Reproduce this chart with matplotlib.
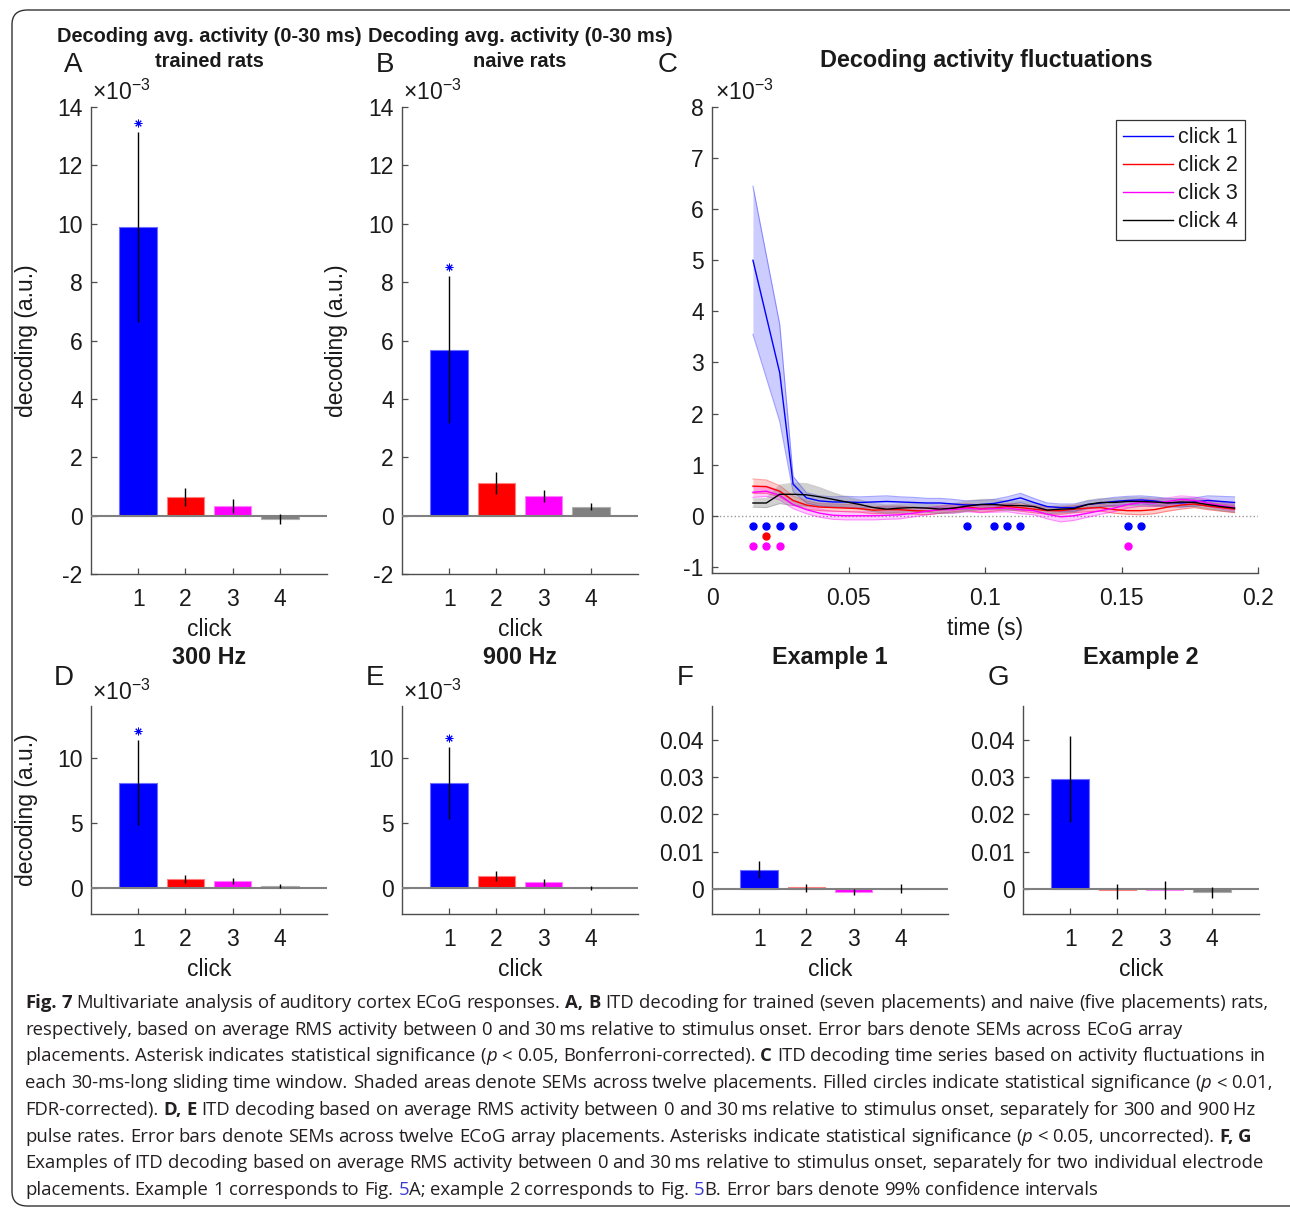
import numpy as np
import matplotlib
matplotlib.use('Agg')
import matplotlib.pyplot as plt
from matplotlib.patches import FancyBboxPatch

plt.rcParams['font.family'] = ['Liberation Sans', 'DejaVu Sans']
plt.rcParams['mathtext.fontset'] = 'custom'
plt.rcParams['mathtext.rm'] = 'Liberation Sans'
plt.rcParams['mathtext.it'] = 'Liberation Sans:italic'
plt.rcParams['axes.unicode_minus'] = False

# ---- bar data (A, B, D, E in units of 1e-3) ----
clicks = [1, 2, 3, 4]
bar_colors = ['#0000ff', '#ff0000', '#ff00ff', '#808080']
edge_colors = ['#6f6fff', '#ff8080', '#ff80ff', '#b0b0b0']

trained_mean = [9.89, 0.63, 0.32, -0.11]
trained_sem = [3.27, 0.30, 0.24, 0.16]
naive_mean = [5.69, 1.12, 0.67, 0.31]
naive_sem = [2.53, 0.38, 0.21, 0.13]
hz300_mean = [8.10, 0.71, 0.53, 0.18]
hz300_sem = [3.27, 0.30, 0.22, 0.16]
hz900_mean = [8.07, 0.94, 0.43, -0.02]
hz900_sem = [2.80, 0.40, 0.27, 0.15]
sig_flags = [True, False, False, False]

# examples with 99% confidence intervals
ex1_mean = [0.0052, 0.0004, -0.0008, 0.0]
ex1_lo = [0.0029, -0.0008, -0.0017, -0.0012]
ex1_hi = [0.0075, 0.0013, 0.0001, 0.0012]
ex2_mean = [0.0295, -0.0004, -0.0002, -0.0009]
ex2_lo = [0.0179, -0.0028, -0.0028, -0.0024]
ex2_hi = [0.0409, 0.0014, 0.0022, 0.0004]

# ---- time series (C), units of 1e-3 ----
time_s = np.linspace(0.015, 0.1914, 37)
blue_mean = [5.00, 3.90, 2.80, 0.62, 0.35, 0.29, 0.27, 0.27, 0.26, 0.27, 0.28, 0.27, 0.26,
             0.25, 0.25, 0.23, 0.21, 0.22, 0.24, 0.29, 0.35, 0.26, 0.18, 0.16, 0.16, 0.22,
             0.25, 0.28, 0.30, 0.31, 0.29, 0.26, 0.25, 0.27, 0.30, 0.28, 0.26]
blue_sem = [1.45, 1.20, 0.95, 0.15, 0.10, 0.10, 0.10, 0.11, 0.11, 0.11, 0.11, 0.10, 0.10,
            0.09, 0.09, 0.09, 0.08, 0.08, 0.08, 0.08, 0.09, 0.08, 0.07, 0.07, 0.07, 0.07,
            0.07, 0.08, 0.08, 0.08, 0.08, 0.08, 0.08, 0.08, 0.09, 0.10, 0.11]
red_mean = [0.58, 0.57, 0.48, 0.30, 0.21, 0.17, 0.16, 0.15, 0.14, 0.11, 0.12, 0.12, 0.10,
            0.09, 0.12, 0.15, 0.17, 0.14, 0.15, 0.18, 0.16, 0.13, 0.10, 0.10, 0.13, 0.15,
            0.16, 0.12, 0.10, 0.10, 0.12, 0.17, 0.21, 0.23, 0.19, 0.16, 0.13]
red_sem = [0.14, 0.13, 0.11, 0.09, 0.08, 0.07, 0.07, 0.07, 0.07, 0.07, 0.07, 0.07, 0.07,
           0.07, 0.07, 0.07, 0.07, 0.07, 0.06, 0.06, 0.07, 0.07, 0.07, 0.07, 0.07, 0.07,
           0.07, 0.07, 0.07, 0.08, 0.08, 0.08, 0.08, 0.07, 0.07, 0.07, 0.07]
mag_mean = [0.46, 0.48, 0.40, 0.22, 0.12, 0.05, 0.01, 0.00, 0.00, 0.00, 0.01, 0.02, 0.05,
            0.09, 0.12, 0.12, 0.15, 0.13, 0.14, 0.15, 0.12, 0.10, 0.03, -0.02, 0.00, 0.05,
            0.10, 0.15, 0.22, 0.26, 0.25, 0.28, 0.32, 0.30, 0.25, 0.20, 0.16]
mag_sem = [0.10, 0.10, 0.09, 0.08, 0.08, 0.08, 0.08, 0.08, 0.08, 0.08, 0.08, 0.08, 0.07,
           0.07, 0.07, 0.07, 0.07, 0.07, 0.07, 0.07, 0.08, 0.08, 0.09, 0.10, 0.09, 0.08,
           0.07, 0.07, 0.07, 0.07, 0.07, 0.07, 0.07, 0.07, 0.07, 0.07, 0.07]
blk_mean = [0.25, 0.25, 0.42, 0.42, 0.41, 0.37, 0.32, 0.27, 0.22, 0.16, 0.13, 0.15, 0.16,
            0.15, 0.13, 0.15, 0.19, 0.22, 0.22, 0.20, 0.20, 0.18, 0.11, 0.13, 0.14, 0.22,
            0.26, 0.26, 0.28, 0.28, 0.27, 0.25, 0.27, 0.26, 0.22, 0.18, 0.15]
blk_sem = [0.08, 0.09, 0.18, 0.22, 0.22, 0.18, 0.13, 0.10, 0.09, 0.08, 0.08, 0.08, 0.08,
           0.08, 0.08, 0.09, 0.10, 0.10, 0.10, 0.09, 0.09, 0.08, 0.07, 0.07, 0.07, 0.08,
           0.08, 0.08, 0.08, 0.08, 0.08, 0.08, 0.08, 0.08, 0.08, 0.08, 0.08]
series_labels = ['click 1', 'click 2', 'click 3', 'click 4']
line_colors = ['#0000ff', '#ff0000', '#ff00ff', '#000000']
band_colors = ['#0000ff', '#ff0000', '#ff00ff', '#808080']

# significant time bins (index into time_s) and the level of their dot row
sig_blue = [0, 1, 2, 3, 16, 18, 19, 20, 28, 29]
sig_red = [1]
sig_mag = [0, 1, 2, 28]
sig_rows = [-0.2, -0.4, -0.6]

caption_lines = [
    "*Fig. 7* Multivariate analysis of auditory cortex ECoG responses. *A, B* ITD decoding for trained (seven placements) and naive (five placements) rats,",
    "respectively, based on average RMS activity between 0 and 30\u2009ms relative to stimulus onset. Error bars denote SEMs across ECoG array",
    "placements. Asterisk indicates statistical significance (_p_ < 0.05, Bonferroni-corrected). *C* ITD decoding time series based on activity fluctuations in",
    "each 30-ms-long sliding time window. Shaded areas denote SEMs across twelve placements. Filled circles indicate statistical significance (_p_ < 0.01,",
    "FDR-corrected). *D, E* ITD decoding based on average RMS activity between 0 and 30\u2009ms relative to stimulus onset, separately for 300 and 900\u2009Hz",
    "pulse rates. Error bars denote SEMs across twelve ECoG array placements. Asterisks indicate statistical significance (_p_ < 0.05, uncorrected). *F, G*",
    "Examples of ITD decoding based on average RMS activity between 0 and 30\u2009ms relative to stimulus onset, separately for two individual electrode",
    "placements. Example 1 corresponds to Fig. #5#A; example 2 corresponds to Fig. #5#B. Error bars denote 99% confidence intervals",
]

W, H = 1290, 1209
fig = plt.figure(figsize=(W / 100, H / 100), dpi=100)
TXT = '#1a1a1a'
FS = 16.5


def axes_px(l, t, r, b):
    return fig.add_axes([l / W, 1 - b / H, (r - l) / W, (b - t) / H])


def style(ax):
    for s in ['top', 'right']:
        ax.spines[s].set_visible(False)
    for s in ['left', 'bottom']:
        ax.spines[s].set_color('0.3')
        ax.spines[s].set_linewidth(1.0)
    ax.tick_params(direction='in', length=4, width=0.9, color='0.3', labelsize=FS,
                   labelcolor=TXT)
    ax.tick_params(axis='x', pad=10)
    ax.tick_params(axis='y', pad=6)


def exponent(ax):
    ax.text(0.005, 1.005, r'$\times\mathregular{10^{-3}}$', transform=ax.transAxes,
            fontsize=FS, color=TXT, ha='left', va='bottom')


def bar_panel(ax, means, lo, hi, ylim, yticks, fmt=None):
    ax.bar(clicks, means, width=0.8, color=bar_colors, edgecolor=edge_colors,
           linewidth=0.8, zorder=2)
    ax.axhline(0, color='0.5', lw=1.5, zorder=3)
    ax.vlines(clicks, lo, hi, color='k', lw=1, zorder=4)
    ax.set_xlim(0, 5)
    ax.set_ylim(*ylim)
    ax.set_xticks(clicks)
    ax.set_yticks(yticks)
    if fmt:
        ax.set_yticklabels([fmt(v) for v in yticks])
    style(ax)
    ax.set_xlabel('click', fontsize=FS, color=TXT, labelpad=5)


def star_shift(ax, hi, sig, dy_px=9):
    # asterisk drawn a few pixels above the top of the error bar
    for c, h, s in zip(clicks, hi, sig):
        if s:
            p = ax.transData.transform((c, h))
            y1 = ax.transData.inverted().transform((p[0], p[1] + dy_px))[1]
            ax.plot(c, y1, ls='none', marker=(8, 2, 0), ms=5.5, mew=0.7,
                    color='#0000ff', zorder=5)


# ---- A ----
axA = axes_px(91, 107, 327, 574)
hiA = [m + s for m, s in zip(trained_mean, trained_sem)]
loA = [m - s for m, s in zip(trained_mean, trained_sem)]
bar_panel(axA, trained_mean, loA, hiA, (-2, 14), list(range(-2, 15, 2)))
star_shift(axA, hiA, sig_flags)
axA.set_ylabel('decoding (a.u.)', fontsize=FS, color=TXT)
axA.yaxis.set_label_coords(-0.225, 0.5)
exponent(axA)

# ---- B ----
axB = axes_px(402, 107, 638, 574)
hiB = [m + s for m, s in zip(naive_mean, naive_sem)]
loB = [m - s for m, s in zip(naive_mean, naive_sem)]
bar_panel(axB, naive_mean, loB, hiB, (-2, 14), list(range(-2, 15, 2)))
star_shift(axB, hiB, sig_flags)
axB.set_ylabel('decoding (a.u.)', fontsize=FS, color=TXT)
axB.yaxis.set_label_coords(-0.229, 0.5)
exponent(axB)

# ---- C ----
axC = axes_px(712, 107, 1258, 573)
means = [blue_mean, red_mean, mag_mean, blk_mean]
sems = [blue_sem, red_sem, mag_sem, blk_sem]
handles = []
axC.plot([0, 0.2], [0, 0], ls=':', color='0.6', lw=1.0, zorder=1)
for m, s, lc, bc, lab in zip(means, sems, line_colors, band_colors, series_labels):
    m = np.array(m)
    s = np.array(s)
    a = 0.35 if bc == '#808080' else 0.2
    axC.fill_between(time_s, m - s, m + s, color=bc, alpha=a, lw=0, zorder=2)
    axC.plot(time_s, m - s, color=bc, alpha=0.35, lw=0.8, zorder=2)
    axC.plot(time_s, m + s, color=bc, alpha=0.35, lw=0.8, zorder=2)
    h, = axC.plot(time_s, m, color=lc, lw=1.0, zorder=3, label=lab)
    handles.append(h)
for idx, col, row in zip([sig_blue, sig_red, sig_mag], line_colors[:3], sig_rows):
    axC.plot(time_s[idx], [row] * len(idx), ls='none', marker='o', ms=5,
             color=col, zorder=4)
axC.set_xlim(0, 0.2)
axC.set_ylim(-1.12, 8)
axC.set_yticks(range(-1, 9))
xt = [0, 0.05, 0.1, 0.15, 0.2]
axC.set_xticks(xt)
axC.set_xticklabels([f'{v:g}' for v in xt])
style(axC)
axC.set_xlabel('time (s)', fontsize=FS, color=TXT, labelpad=5)
exponent(axC)
leg = axC.legend(handles=handles, loc='upper right', bbox_to_anchor=(0.977, 0.973),
                 borderaxespad=0, fontsize=15.5, frameon=True, fancybox=False,
                 framealpha=1, edgecolor='0.2', handlelength=2.3, handletextpad=0.25,
                 labelspacing=0.33, borderpad=0.35)
leg.get_frame().set_linewidth(0.9)
for t in leg.get_texts():
    t.set_color(TXT)

# ---- D ----
axD = axes_px(91, 706, 327, 914)
hiD = [m + s for m, s in zip(hz300_mean, hz300_sem)]
loD = [m - s for m, s in zip(hz300_mean, hz300_sem)]
bar_panel(axD, hz300_mean, loD, hiD, (-2, 14), [0, 5, 10])
star_shift(axD, hiD, sig_flags)
axD.set_ylabel('decoding (a.u.)', fontsize=FS, color=TXT)
axD.yaxis.set_label_coords(-0.225, 0.5)
exponent(axD)

# ---- E ----
axE = axes_px(402, 706, 638, 914)
hiE = [m + s for m, s in zip(hz900_mean, hz900_sem)]
loE = [m - s for m, s in zip(hz900_mean, hz900_sem)]
bar_panel(axE, hz900_mean, loE, hiE, (-2, 14), [0, 5, 10])
star_shift(axE, hiE, sig_flags)
exponent(axE)

# ---- F, G ----
yt_ex = [0, 0.01, 0.02, 0.03, 0.04]
axF = axes_px(712, 706, 948, 914)
bar_panel(axF, ex1_mean, ex1_lo, ex1_hi, (-0.0067, 0.049), yt_ex, fmt=lambda v: f'{v:g}')
axG = axes_px(1023, 706, 1259, 914)
bar_panel(axG, ex2_mean, ex2_lo, ex2_hi, (-0.0067, 0.049), yt_ex, fmt=lambda v: f'{v:g}')


# ---- titles and panel letters (pixel positions) ----
def ftext(x, y, s, **kw):
    kw.setdefault('color', TXT)
    return fig.text(x / W, 1 - y / H, s, **kw)


ftext(209, 42, 'Decoding avg. activity (0-30 ms)', fontsize=14.4, weight='bold', ha='center', va='baseline')
ftext(209, 67, 'trained rats', fontsize=14.4, weight='bold', ha='center', va='baseline')
ftext(520, 42, 'Decoding avg. activity (0-30 ms)', fontsize=14.4, weight='bold', ha='center', va='baseline')
ftext(520, 67, 'naive rats', fontsize=14.4, weight='bold', ha='center', va='baseline')
ftext(986, 67, 'Decoding activity fluctuations', fontsize=16.8, weight='bold', ha='center', va='baseline')
ftext(209, 664, '300 Hz', fontsize=16.8, weight='bold', ha='center', va='baseline')
ftext(520, 664, '900 Hz', fontsize=16.8, weight='bold', ha='center', va='baseline')
ftext(830, 664, 'Example 1', fontsize=16.8, weight='bold', ha='center', va='baseline')
ftext(1141, 664, 'Example 2', fontsize=16.8, weight='bold', ha='center', va='baseline')
for letter, x, y in [('A', 64, 72), ('B', 376, 72), ('C', 658, 72), ('D', 54, 685),
                     ('E', 366, 685), ('F', 677, 685), ('G', 988, 685)]:
    ftext(x, y, letter, fontsize=20, ha='left', va='baseline')

# ---- caption ----
CAP_FONT = ['Open Sans', 'DejaVu Sans']
CAP_FS = 13.3


def parse(line):
    words, pieces, buf = [], [], ''
    bold = ital = blue = False
    for ch in line + ' ':
        if ch in '*_# ':
            if buf:
                pieces.append((buf, bold, ital, blue))
                buf = ''
            if ch == '*':
                bold = not bold
            elif ch == '_':
                ital = not ital
            elif ch == '#':
                blue = not blue
            elif pieces:
                words.append(pieces)
                pieces = []
        else:
            buf += ch
    return words


renderer = fig.canvas.get_renderer()


def width_of(t):
    return t.get_window_extent(renderer).width


probe1 = fig.text(0, 0, 'nn', fontsize=CAP_FS, family=CAP_FONT)
probe2 = fig.text(0, 0, 'n n', fontsize=CAP_FS, family=CAP_FONT)
space_px = width_of(probe2) - width_of(probe1)
probe1.remove()
probe2.remove()

y_base = 1008
for line in caption_lines:
    x = 25
    for word in parse(line):
        for s, b, i, c in word:
            t = ftext(x, y_base, s, fontsize=CAP_FS, family=CAP_FONT,
                      weight='bold' if b else 'normal', style='italic' if i else 'normal',
                      color='#3a3ad0' if c else '#231f20', ha='left', va='baseline')
            x += width_of(t)
        x += space_px
    y_base += 26.7

frame = FancyBboxPatch((12 / W, 3 / H), 1.2, 1 - 13 / H, transform=fig.transFigure,
                       boxstyle='round,pad=0,rounding_size=0.012', fill=False,
                       edgecolor='#333333', lw=1.0)
fig.patches.append(frame)

fig.savefig('out.png', dpi=100)
